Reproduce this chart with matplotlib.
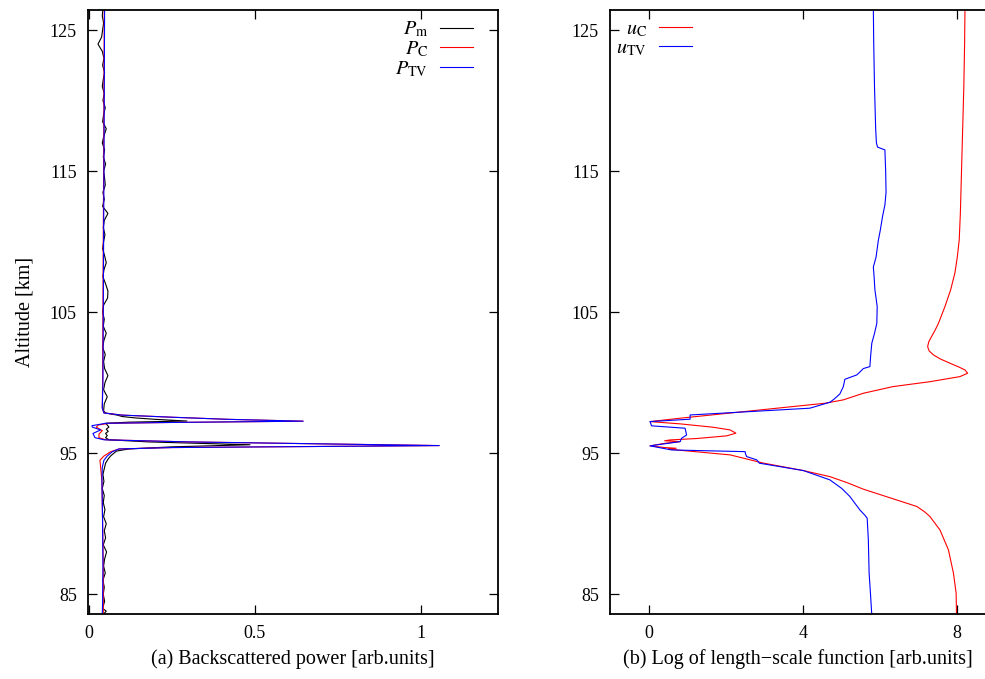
import matplotlib
matplotlib.use("Agg")
import matplotlib.pyplot as plt

plt.rcParams['font.family'] = ['Liberation Serif', 'DejaVu Serif']
plt.rcParams['mathtext.fontset'] = 'stix'
fs = 13
fl = 14.5

# (a) backscattered power, altitude in km
alt_m = [126.5, 126.0, 125.5, 125.0, 124.5, 124.0, 123.5, 123.0, 122.5, 122.0,
         121.5, 121.0, 120.5, 120.0, 119.5, 119.0, 118.5, 118.0, 117.5, 117.0,
         116.5, 116.0, 115.5, 115.0, 114.5, 114.0, 113.5, 113.0, 112.5, 112.0,
         111.5, 111.0, 110.5, 110.0, 109.5, 109.0, 108.5, 108.0, 107.5, 107.0,
         106.5, 106.0, 105.5, 105.0, 104.5, 104.0, 103.5, 103.0, 102.5, 102.0,
         101.5, 101.0, 100.5, 100.0, 99.5, 99.0, 98.5, 98.0,
         97.85, 97.7, 97.6, 97.5, 97.4, 97.28, 97.2, 97.12, 97.0, 96.85,
         96.7, 96.55, 96.4, 96.25, 96.1, 95.95, 95.8, 95.7, 95.6, 95.45,
         95.3, 95.15, 95.0, 94.8, 94.6, 94.3,
         94.0, 93.5, 93.0, 92.5, 92.0, 91.5, 91.0, 90.5, 90.0, 89.5,
         89.0, 88.5, 88.0, 87.5, 87.0, 86.5, 86.0, 85.5, 85.0, 84.5,
         84.0, 83.8, 83.5]
p_m = [0.042, 0.040, 0.044, 0.041, 0.038, 0.027, 0.040, 0.045, 0.041, 0.047,
       0.043, 0.040, 0.046, 0.042, 0.049, 0.044, 0.041, 0.052, 0.045, 0.040,
       0.047, 0.043, 0.050, 0.044, 0.047, 0.049, 0.042, 0.046, 0.041, 0.057,
       0.046, 0.043, 0.048, 0.044, 0.041, 0.047, 0.052, 0.045, 0.042, 0.050,
       0.057, 0.056, 0.044, 0.041, 0.046, 0.043, 0.052, 0.045, 0.041, 0.049,
       0.044, 0.047, 0.057, 0.048, 0.044, 0.055, 0.046, 0.044,
       0.050, 0.085, 0.100, 0.140, 0.200, 0.295, 0.120, 0.050, 0.055, 0.060,
       0.052, 0.058, 0.050, 0.055, 0.050, 0.060, 0.180, 0.330, 0.485, 0.250,
       0.120, 0.083, 0.075, 0.065, 0.058, 0.050,
       0.047, 0.042, 0.045, 0.040, 0.046, 0.043, 0.048, 0.044, 0.052, 0.046,
       0.050, 0.043, 0.053, 0.047, 0.044, 0.049, 0.042, 0.046, 0.043, 0.047,
       0.041, 0.052, 0.040]

alt_c = [126.5, 120.0, 115.0, 110.0, 105.0, 100.0, 98.2, 97.85, 97.7, 97.55,
         97.4, 97.27, 97.18, 97.12, 97.0, 96.85, 96.6, 96.35, 96.1, 95.95,
         95.8, 95.54, 95.4, 95.3, 95.1, 94.8, 94.5, 94.0, 93.0, 90.0,
         87.0, 83.5]
p_c = [0.046, 0.045, 0.044, 0.043, 0.042, 0.041, 0.040, 0.045, 0.100, 0.250,
       0.420, 0.645, 0.250, 0.060, 0.028, 0.022, 0.040, 0.030, 0.030, 0.050,
       0.300, 1.055, 0.250, 0.090, 0.065, 0.045, 0.033, 0.035, 0.039, 0.041,
       0.043, 0.043]

alt_tv = [126.5, 115.0, 105.0, 100.0, 98.2, 97.85, 97.7, 97.55, 97.4, 97.27,
          97.18, 97.12, 96.95, 96.85, 96.65, 96.4, 96.1, 95.95, 95.8, 95.54,
          95.4, 95.3, 95.1, 94.8, 94.5, 94.0, 93.0, 90.0, 87.0, 84.5, 83.5]
p_tv = [0.047, 0.045, 0.043, 0.042, 0.040, 0.045, 0.100, 0.250, 0.420, 0.645,
        0.250, 0.050, 0.009, 0.010, 0.035, 0.012, 0.018, 0.045, 0.300, 1.055,
        0.250, 0.090, 0.070, 0.055, 0.045, 0.040, 0.039, 0.041, 0.042, 0.041,
        0.040]

# (b) log of length-scale function
alt_uc = [126.5, 124.0, 121.0, 118.0, 115.0, 112.0, 110.1, 108.9, 107.8, 106.6,
          105.4, 104.2, 103.7, 103.26, 102.9, 102.55, 102.25, 101.97, 101.68, 101.38,
          101.1, 100.9, 100.67, 100.43, 100.07, 99.72, 99.25, 98.78, 98.54, 97.48,
          97.24, 97.08, 96.84, 96.65, 96.42, 96.23, 96.04, 95.94, 95.88, 95.82,
          95.7, 95.52, 95.4, 95.35, 95.3, 95.23, 94.88, 94.3, 93.77, 93.34,
          92.9, 92.45, 91.69, 91.22, 90.85, 90.51, 89.56, 88.15, 86.5, 85.08,
          83.5]
u_c = [8.20, 8.19, 8.17, 8.14, 8.11, 8.08, 8.05, 8.00, 7.94, 7.83,
       7.68, 7.51, 7.42, 7.33, 7.26, 7.23, 7.27, 7.38, 7.56, 7.81,
       8.05, 8.20, 8.27, 8.07, 7.29, 6.33, 5.56, 5.04, 4.56, 0.80,
       0.02, 0.80, 1.66, 2.10, 2.25, 2.01, 1.23, 0.54, 0.40, 0.80,
       0.40, 0.02, 0.40, 0.70, 0.50, 0.71, 2.10, 2.96, 4.00, 4.69,
       5.15, 5.56, 6.42, 6.95, 7.15, 7.29, 7.55, 7.77, 7.90, 7.97,
       7.98]

alt_utv = [126.5, 124.0, 121.0, 118.0, 117.0, 116.7, 116.5, 115.0, 113.5, 112.6,
           111.8, 110.8, 110.1, 108.9, 108.2, 107.5, 106.6, 105.4, 104.2, 103.5,
           102.8, 101.9, 101.14, 101.0, 100.7, 100.55, 100.24, 99.72, 99.2, 98.83,
           98.61, 98.19, 97.71, 97.41, 97.24, 96.94, 96.77, 96.29, 96.06, 95.82,
           95.52, 95.23, 95.11, 94.95, 94.76, 94.53, 94.29, 93.77, 93.11, 92.5,
           91.93, 90.98, 90.6, 90.39, 88.85, 86.5, 84.84, 83.5]
u_tv = [5.82, 5.83, 5.85, 5.88, 5.90, 5.93, 6.12, 6.14, 6.15, 6.12,
        6.06, 6.00, 5.95, 5.89, 5.82, 5.84, 5.86, 5.92, 5.91, 5.85,
        5.78, 5.75, 5.73, 5.56, 5.45, 5.39, 5.08, 5.04, 4.95, 4.80,
        4.69, 4.17, 1.06, 1.06, 0.02, 0.06, 0.93, 0.97, 0.84, 0.80,
        0.02, 0.58, 2.49, 2.50, 2.53, 2.79, 2.86, 4.00, 4.69, 5.00,
        5.21, 5.47, 5.60, 5.66, 5.69, 5.71, 5.75, 5.78]

fig = plt.figure(figsize=(9.85, 6.79), dpi=100)
ax1 = fig.add_axes([88/985, 1-614/679, 410/985, 604/679])
ax2 = fig.add_axes([610/985, 1-614/679, 375/985, 604/679])

lw = 0.8
ax1.plot(p_m, alt_m, color='black', lw=lw, label=r'$P_\mathrm{m}$')
ax1.plot(p_c, alt_c, color='#ff0000', lw=lw, label=r'$P_\mathrm{C}$')
ax1.plot(p_tv, alt_tv, color='#0000ff', lw=lw, label=r'$P_\mathrm{TV}$')

ax2.plot(u_c, alt_uc, color='#ff0000', lw=lw, label=r'$u_\mathrm{C}$')
ax2.plot(u_tv, alt_utv, color='#0000ff', lw=lw, label=r'$u_\mathrm{TV}$')

ylo, yhi = 83.6, 126.42
ax1.set_xlim(-0.003, 1.232)
ax2.set_xlim(-1.02, 8.72)
for ax in (ax1, ax2):
    ax.set_ylim(ylo, yhi)
    ax.set_yticks([85, 95, 105, 115, 125])
    ax.tick_params(direction='in', length=6.5, width=0.9, top=True, right=True,
                   labelsize=fs, pad=8, colors='black')
    for s in ax.spines.values():
        s.set_linewidth(1.3)

ax1.set_xticks([0, 0.5, 1])
ax1.set_xticklabels(['0', '0.5', '1'])
ax2.set_xticks([0, 4, 8])
ax2.spines['right'].set_visible(False)
ax2.tick_params(right=False)

ax1.set_xlabel('(a) Backscattered power [arb.units]', fontsize=fl, labelpad=5)
ax2.set_xlabel('(b) Log of length\u2212scale function [arb.units]', fontsize=fl, labelpad=5)
ax1.set_ylabel('Altitude [km]', fontsize=fl, labelpad=11)

leg_kw = dict(bbox_transform=fig.transFigure, frameon=False, markerfirst=False,
              fontsize=14.5, handlelength=1.64, handletextpad=0.6, labelspacing=0.0,
              borderaxespad=0, borderpad=0)
ax1.legend(loc='upper right', bbox_to_anchor=(473/985, 1-20/679), **leg_kw)
ax2.legend(loc='upper right', bbox_to_anchor=(692/985, 1-20/679), **leg_kw)

plt.savefig('out.png', dpi=100)
